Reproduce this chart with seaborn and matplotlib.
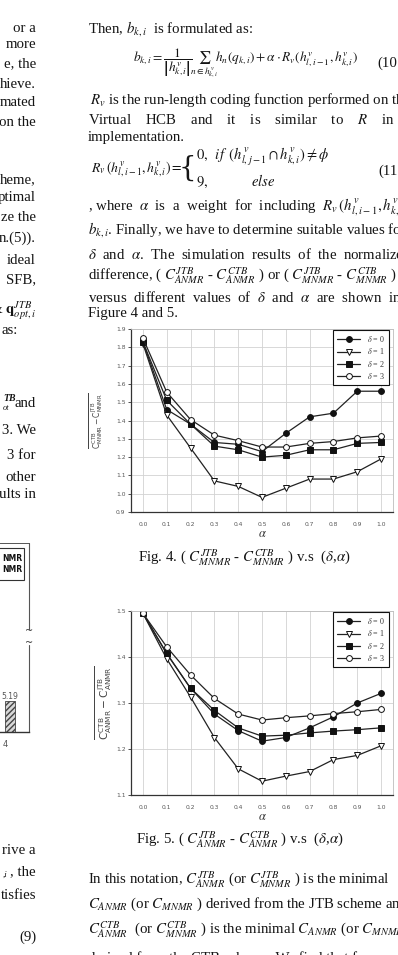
import numpy as np
import pandas as pd
import matplotlib
matplotlib.use("Agg")
import matplotlib.pyplot as plt
import seaborn as sns
from matplotlib.patches import Rectangle

# ---------------- data ----------------
alpha = [0.0, 0.1, 0.2, 0.3, 0.4, 0.5, 0.6, 0.7, 0.8, 0.9, 1.0]
deltas = ["0", "1", "2", "3"]

fig4_d0 = [1.83, 1.46, 1.38, 1.28, 1.27, 1.23, 1.33, 1.42, 1.44, 1.56, 1.56]
fig4_d1 = [1.82, 1.43, 1.25, 1.07, 1.04, 0.98, 1.03, 1.08, 1.08, 1.12, 1.19]
fig4_d2 = [1.83, 1.51, 1.38, 1.26, 1.24, 1.20, 1.21, 1.24, 1.24, 1.275, 1.28]
fig4_d3 = [1.85, 1.555, 1.405, 1.32, 1.29, 1.255, 1.255, 1.275, 1.285, 1.305, 1.315]

fig5_d0 = [1.495, 1.407, 1.332, 1.276, 1.240, 1.217, 1.225, 1.246, 1.270, 1.300, 1.321]
fig5_d1 = [1.495, 1.396, 1.313, 1.225, 1.157, 1.130, 1.141, 1.151, 1.177, 1.186, 1.207]
fig5_d2 = [1.495, 1.408, 1.332, 1.284, 1.246, 1.228, 1.230, 1.235, 1.239, 1.242, 1.246]
fig5_d3 = [1.495, 1.422, 1.361, 1.310, 1.276, 1.263, 1.268, 1.272, 1.277, 1.281, 1.286]

fig4_yticks = [0.9, 1.0, 1.1, 1.2, 1.3, 1.4, 1.5, 1.6, 1.7, 1.8, 1.9]
fig5_yticks = [1.1, 1.2, 1.3, 1.4, 1.5]

frag_category = [4]
frag_value = [5.19]

# ---------------- setup ----------------
sns.set_theme(style="white")
plt.rcParams['font.family'] = ['Liberation Serif', 'DejaVu Serif']
plt.rcParams['mathtext.fontset'] = 'stix'

W, H = 398, 955
fig = plt.figure(figsize=(W / 100, H / 100), dpi=100)
fig.patch.set_facecolor('white')

bg = fig.add_axes([0, 0, 1, 1], zorder=0)
bg.set_xlim(0, W)
bg.set_ylim(H, 0)
bg.axis('off')

TXT = 10.7
ink = '#151515'


def T(x, y, s, size=TXT, ha='left', **kw):
    bg.text(x, y, s, fontsize=size, ha=ha, va='center', color=ink, **kw)


def px_axes(l, t, r, b, **kw):
    return fig.add_axes([l / W, 1 - b / H, (r - l) / W, (b - t) / H], **kw)


# ---------------- right column text ----------------
T(88, 29, r"Then, $b_{k,i}$  is formulated as:")
T(133, 63, r"$b_{k,i}=\dfrac{1}{\left|h^{v}_{k,i}\right|}\!\sum_{n\in h^{v}_{k,i}}\!h_n(q_{k,i})+\alpha\cdot R_v(h^{v}_{l,i-1},h^{v}_{k,i})$", size=9.6)
T(377, 63, "(10")
T(90, 100, r"$R_v$ is the run-length coding function performed on the")
T(88, 120, r"Virtual    HCB    and    it    is    similar    to    $R$    in    our")
T(88, 137, "implementation.")
T(91, 169, r"$R_v\,(h^{v}_{l,i-1},h^{v}_{k,i})=$", size=9.9)
T(187, 168, "{", size=20, ha='center', family='DejaVu Serif', fontweight='light')
T(196, 157, r"$0,\;\; if\;\;(h^{v}_{l,j-1}\cap h^{v}_{k,i})\neq\phi$", size=10.5)
T(196, 181, r"$9,\qquad\qquad else$", size=10.5)
T(378, 171, "(11")
T(88, 207, r", where  $\alpha$  is  a  weight  for  including  $R_v\,(h^{v}_{l,i-1},h^{v}_{k,i})$  in")
T(88, 230, r"$b_{k,i}$. Finally, we have to determine suitable values for")
T(88, 254, r"$\delta$  and  $\alpha$.  The  simulation  results  of  the  normalized")
T(88, 276, r"difference, ( $C^{JTB}_{ANMR}$ - $C^{CTB}_{ANMR}$ ) or ( $C^{JTB}_{MNMR}$ - $C^{CTB}_{MNMR}$ )")
T(88, 297, r"versus  different  values  of  $\delta$  and  $\alpha$  are  shown  in")
T(88, 313, "Figure 4 and 5.")

T(244, 558, r"Fig. 4. ( $C^{JTB}_{MNMR}$ - $C^{CTB}_{MNMR}$ ) v.s  ($\delta$,$\alpha$)", ha='center')
T(240, 840, r"Fig. 5. ( $C^{JTB}_{ANMR}$ - $C^{CTB}_{ANMR}$ ) v.s  ($\delta$,$\alpha$)", ha='center')

T(88, 880, r"In this notation, $C^{JTB}_{ANMR}$ (or $C^{JTB}_{MNMR}$ ) is the minimal")
T(88, 904, r"$C_{ANMR}$ (or $C_{MNMR}$ ) derived from the JTB scheme and")
T(88, 930, r"$C^{CTB}_{ANMR}$  (or $C^{CTB}_{MNMR}$ ) is the minimal $C_{ANMR}$ (or $C_{MNMR}$ )")
T(88, 958, "derived from the CTB scheme. We find that for")

# ---------------- left column fragments ----------------
left_lines = [(29, "or a"), (45, "more"), (64, "e, the"), (84, "hieve."),
              (103, "mated"), (123, "on the"), (180, "heme,"), (197, "ptimal"),
              (217, "ze the"), (238, "n.(5))."), (260, "ideal"), (280, "SFB,"),
              (311, r"& $\mathbf{q}^{JTB}_{opt,i}$"),
              (430, "3. We"), (455, "3 for"),
              (477, "other"), (494, "ults in"),
              (850, "rive a"), (872, ", the"), (895, "tisfies"), (937, "(9)")]
for y, s in left_lines:
    T(36, y, s, ha='right')
T(1, 330, "as:")
T(36, 403, "and", ha='right')
T(3, 398, "TB", size=7, fontweight='bold', style='italic')
T(3, 408, "ot", size=6, style='italic')
T(3, 875, ",i", size=6.5, style='italic')

# ---------------- bar-chart fragment (left) ----------------
fa = px_axes(0, 543, 29, 732, zorder=1)
fa.bar([c + 0.1 for c in frag_category], frag_value, width=0.2,
       color='#d8d8d8', edgecolor='#444', hatch='//////', linewidth=0.6)
fa.set_xlim(3.9, 4.48)
fa.set_ylim(0, 5.19 * 189 / 31)
fa.set_xticks(frag_category)
fa.set_xticklabels(["4"], fontsize=6, family='DejaVu Sans', color='#555')
fa.tick_params(axis='x', length=2, width=0.6, pad=4, color='#444')
fa.set_yticks([])
fa.spines['left'].set_visible(False)
fa.spines['bottom'].set_color('#333')
fa.spines['bottom'].set_linewidth(1.0)
fa.spines['top'].set_color('#555')
fa.spines['top'].set_linewidth(0.7)
fa.spines['right'].set_visible(False)
fa.set_facecolor('none')
fa.text(4.1, 5.19, "5.19", ha='center', va='bottom', fontsize=5.5,
        family='DejaVu Sans', color='#555')
bg.plot([29, 29], [543, 629], color='#555', lw=0.8)
bg.plot([29, 29], [645, 732], color='#555', lw=0.8)
bg.text(29, 631, "~", fontsize=7, ha='center', va='center', color='#333', family='DejaVu Sans')
bg.text(29, 643, "~", fontsize=7, ha='center', va='center', color='#333', family='DejaVu Sans')
bg.add_patch(Rectangle((-2, 548), 26, 32, fill=False, edgecolor='#333', lw=0.8))
bg.text(22, 558, "NMR", fontsize=5.5, fontweight='bold', family='DejaVu Sans', ha='right', va='center', color='#111')
bg.text(22, 569, "NMR", fontsize=5.5, fontweight='bold', family='DejaVu Sans', ha='right', va='center', color='#111')


# ---------------- line charts ----------------
def line_chart(ax, series, yticks, ylim, ylabel, lab_size, lab_pad):
    styles = [
        dict(marker='o', markerfacecolor='#111'),
        dict(marker='v', markerfacecolor='white'),
        dict(marker='s', markerfacecolor='#111'),
        dict(marker='o', markerfacecolor='white'),
    ]
    for d, vals, st in zip(deltas, series, styles):
        df = pd.DataFrame({"alpha": alpha, "val": vals})
        sns.lineplot(data=df, x="alpha", y="val", ax=ax, color='#222', lw=0.9,
                     markersize=4.2, markeredgecolor='#111', markeredgewidth=0.7,
                     label=r"$\delta$ = " + d, **st)
    ax.set_xlim(-0.05, 1.05)
    ax.set_ylim(*ylim)
    ax.set_xticks(alpha)
    ax.set_xticklabels([f"{a:.1f}" for a in alpha])
    ax.set_yticks(yticks)
    ax.set_yticklabels([f"{v:.1f}" for v in yticks])
    ax.grid(True, color='#d2d2d2', lw=0.6)
    ax.set_axisbelow(True)
    for lab in ax.get_xticklabels() + ax.get_yticklabels():
        lab.set_family('DejaVu Sans')
        lab.set_fontsize(4.3)
        lab.set_color('#555')
    ax.tick_params(axis='y', length=2, width=0.6, pad=2, color='#333', left=True)
    ax.tick_params(axis='x', length=0, pad=7.5)
    for s in ['left', 'bottom']:
        ax.spines[s].set_color('#333')
        ax.spines[s].set_linewidth(0.9)
    for s in ['top', 'right']:
        ax.spines[s].set_color('#bdbdbd')
        ax.spines[s].set_linewidth(0.6)
    ax.set_xlabel(r"$\alpha$", fontsize=9, labelpad=0.5, color='#333')
    ax.set_ylabel(ylabel, fontsize=lab_size, family='DejaVu Sans', color='#444',
                  labelpad=lab_pad, math_fontfamily='dejavusans')
    leg = ax.legend(loc='upper right', bbox_to_anchor=(0.985, 0.995), borderaxespad=0,
                    fontsize=5.8, handlelength=2.8, labelspacing=0.3, borderpad=0.5,
                    handletextpad=0.9, fancybox=False, framealpha=1, edgecolor='#111')
    leg.get_frame().set_linewidth(0.8)
    for t in leg.get_texts():
        t.set_color('#333')


def cdiff(kind):
    return (r"$\overline{\mathrm{C}^{\mathrm{CTB}}_{\mathrm{" + kind + r"}}-"
            r"\mathrm{C}^{\mathrm{JTB}}_{\mathrm{" + kind + r"}}}$")


ax4 = px_axes(131, 329, 393, 512, zorder=2)
line_chart(ax4, [fig4_d0, fig4_d1, fig4_d2, fig4_d3], fig4_yticks, (0.9, 1.9),
           cdiff("MNMR"), 5.5, 8)

ax5 = px_axes(131, 611, 393, 795, zorder=2)
line_chart(ax5, [fig5_d0, fig5_d1, fig5_d2, fig5_d3], fig5_yticks, (1.1, 1.5),
           cdiff("ANMR"), 7.6, 1)

fig.savefig("out.png", dpi=100, facecolor='white')
